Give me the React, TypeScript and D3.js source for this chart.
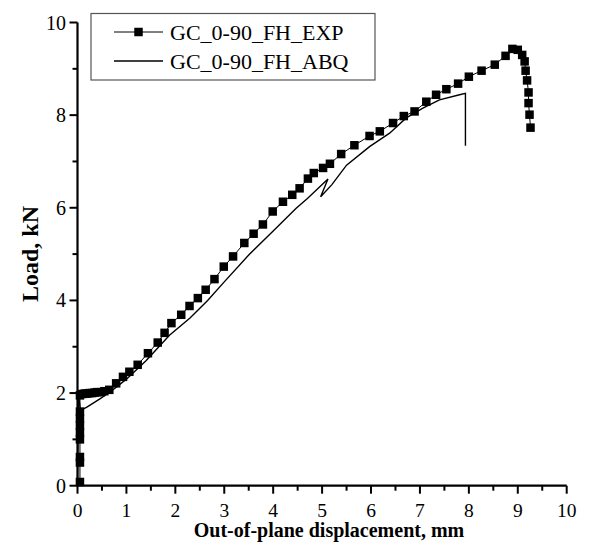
import React from "react";
import * as d3 from "d3";

const expX = [0.05,0.05,0.05,0.05,0.05,0.05,0.05,0.05,0.05,
  0.1,0.15,0.2,0.25,0.3,0.35,0.4,0.48,0.55,0.65,
  0.79,0.93,1.06,1.23,1.44,1.64,1.78,1.92,2.12,2.29,2.46,2.62,2.80,2.99,3.18,3.41,3.60,3.79,3.99,4.20,4.39,4.54,4.71,4.83,5.02,5.16,5.39,5.66,5.97,6.18,6.45,6.67,6.89,7.13,7.33,7.54,7.78,8.00,8.26,8.53,8.75,8.89,9.00,9.09,9.14,9.16,9.19,9.22,9.22,9.24,9.26];
const expY = [0.08,0.5,0.62,1.0,1.15,1.3,1.45,1.6,1.95,
  1.98,1.99,1.99,2.0,2.0,2.01,2.02,2.02,2.04,2.07,
  2.21,2.35,2.46,2.61,2.86,3.09,3.30,3.51,3.69,3.88,4.05,4.23,4.46,4.73,4.95,5.24,5.44,5.64,5.92,6.13,6.28,6.42,6.63,6.75,6.86,6.95,7.16,7.35,7.55,7.65,7.83,7.98,8.08,8.29,8.44,8.56,8.68,8.83,8.96,9.09,9.28,9.43,9.41,9.30,9.16,8.96,8.75,8.49,8.26,8.01,7.73];

const abqX = [0,0.02,0.06,0.2,0.45,0.7,1.0,1.4,1.88,2.3,2.66,3.0,3.5,4.0,4.47,4.7,5.12,4.97,5.2,5.5,5.97,6.38,6.72,7.06,7.40,7.81,7.93,7.93];
const abqY = [0,1.97,1.62,1.70,1.87,2.05,2.3,2.7,3.25,3.62,4.0,4.4,4.98,5.5,5.99,6.2,6.62,6.24,6.5,6.92,7.32,7.61,7.94,8.15,8.33,8.44,8.47,7.34];

const xTicks = [0,1,2,3,4,5,6,7,8,9,10];
const yTicks = [0,2,4,6,8,10];
const legendLabels = ["GC_0-90_FH_EXP", "GC_0-90_FH_ABQ"];
const xTitle = "Out-of-plane displacement, mm";
const yTitle = "Load, kN";

const FONT = "'Liberation Serif', 'Times New Roman', serif";

export default function App() {
  const x = d3.scaleLinear().domain([0, 10]).range([77.5, 566.7]);
  const y = d3.scaleLinear().domain([0, 10]).range([485.7, 22.5]);
  const line = d3.line<[number, number]>().x(d => x(d[0])).y(d => y(d[1]));
  const expPts: [number, number][] = expX.map((v, i) => [v, expY[i]]);
  const abqPts: [number, number][] = abqX.map((v, i) => [v, abqY[i]]);
  const xMinor = d3.range(0.5, 10, 1);
  const yMinor = d3.range(1, 10, 2);
  const ms = 8.5;
  return (
    <svg width={612} height={557} style={{ position: "absolute", left: 0, top: 0, background: "#fff" }}>
      <rect width={612} height={557} fill="#fff" />
      {/* data */}
      <path d={line(abqPts) || ""} fill="none" stroke="#000" strokeWidth={1.4} />
      <path d={line(expPts) || ""} fill="none" stroke="#000" strokeWidth={1} />
      {expPts.map((p, i) => (
        <rect key={i} x={x(p[0]) - ms / 2} y={y(p[1]) - ms / 2} width={ms} height={ms} fill="#000" />
      ))}
      {/* axes */}
      <line x1={x(0)} x2={x(10)} y1={y(0)} y2={y(0)} stroke="#000" strokeWidth={2.2} />
      <line x1={x(0)} x2={x(0)} y1={y(0) + 1.1} y2={y(10)} stroke="#000" strokeWidth={2.2} />
      {xTicks.map(t => (
        <g key={"xt" + t}>
          <line x1={x(t)} x2={x(t)} y1={y(0)} y2={y(0) + 8} stroke="#000" strokeWidth={2} />
          <text x={x(t)} y={517} fontFamily={FONT} fontSize={19.5} textAnchor="middle">{t}</text>
        </g>
      ))}
      {xMinor.map(t => (
        <line key={"xm" + t} x1={x(t)} x2={x(t)} y1={y(0)} y2={y(0) + 5} stroke="#000" strokeWidth={2} />
      ))}
      {yTicks.map(t => (
        <g key={"yt" + t}>
          <line x1={x(0) - 8} x2={x(0)} y1={y(t)} y2={y(t)} stroke="#000" strokeWidth={2} />
          <text x={66} y={y(t) + 7} fontFamily={FONT} fontSize={20} textAnchor="end">{t}</text>
        </g>
      ))}
      {yMinor.map(t => (
        <line key={"ym" + t} x1={x(0) - 5} x2={x(0)} y1={y(t)} y2={y(t)} stroke="#000" strokeWidth={2} />
      ))}
      <text x={329} y={537} fontFamily={FONT} fontSize={20} fontWeight="bold" textAnchor="middle">{xTitle}</text>
      <text transform="translate(38,254) rotate(-90)" fontFamily={FONT} fontSize={24} fontWeight="bold" textAnchor="middle">{yTitle}</text>
      {/* legend */}
      <rect x={91} y={13.5} width={284} height={66.5} fill="#fff" stroke="#555" strokeWidth={1.2} />
      <line x1={114} x2={163} y1={32} y2={32} stroke="#000" strokeWidth={1} />
      <rect x={138.5 - ms / 2} y={32 - ms / 2} width={ms} height={ms} fill="#000" />
      <text x={170} y={39.5} fontFamily={FONT} fontSize={22}>{legendLabels[0]}</text>
      <line x1={114} x2={163} y1={61} y2={61} stroke="#000" strokeWidth={1.4} />
      <text x={170} y={68.5} fontFamily={FONT} fontSize={22}>{legendLabels[1]}</text>
    </svg>
  );
}
